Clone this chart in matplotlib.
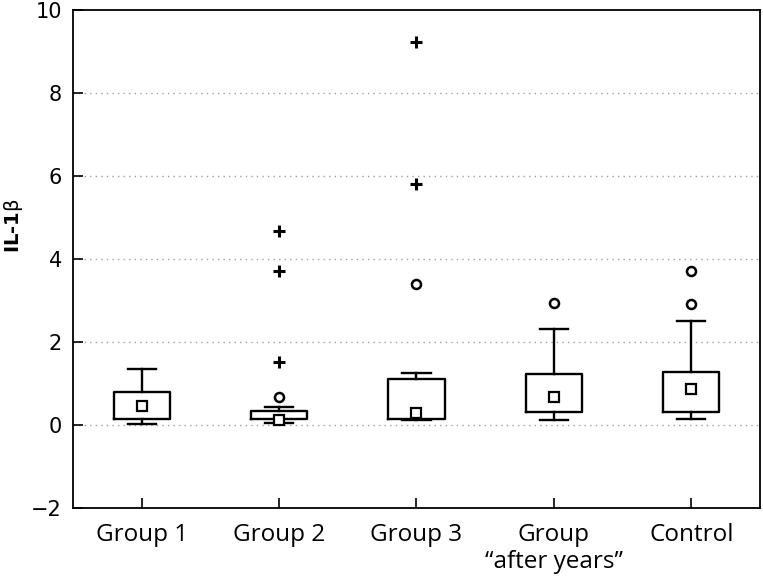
import matplotlib
matplotlib.use('Agg')
import matplotlib.pyplot as plt

categories = ['Group 1', 'Group 2', 'Group 3', 'Group\n\u201cafter years\u201d', 'Control']
whisker_low = [0.02, 0.04, 0.12, 0.13, 0.14]
q1 = [0.14, 0.14, 0.14, 0.31, 0.31]
q3 = [0.80, 0.34, 1.10, 1.22, 1.28]
whisker_high = [1.35, 0.43, 1.26, 2.31, 2.51]
means = [0.46, 0.12, 0.28, 0.68, 0.86]
outliers_circle = [[], [0.68], [3.40], [2.93], [2.91, 3.70]]
outliers_plus = [[], [1.52, 3.71, 4.67], [5.80, 9.22], [], []]
y_ticks = [-2, 0, 2, 4, 6, 8, 10]

fig = plt.figure(figsize=(7.63, 5.80), dpi=100)
ax = fig.add_axes([0.0957, 0.124, 0.9003, 0.8588])

stats = []
for i in range(len(categories)):
    stats.append(dict(whislo=whisker_low[i], q1=q1[i], med=means[i], q3=q3[i],
                      whishi=whisker_high[i], mean=means[i], fliers=[]))

positions = list(range(1, len(categories) + 1))
lw = 1.7
ax.bxp(stats, positions=positions, widths=0.41, showmeans=True, showfliers=False,
       boxprops=dict(color='black', linewidth=lw),
       whiskerprops=dict(color='black', linewidth=lw),
       capprops=dict(color='black', linewidth=lw),
       medianprops=dict(visible=False),
       meanprops=dict(marker='s', markerfacecolor='white', markeredgecolor='black',
                      markersize=6.5, markeredgewidth=1.6))

for i, p in enumerate(positions):
    if outliers_circle[i]:
        ax.plot([p] * len(outliers_circle[i]), outliers_circle[i], linestyle='none',
                marker='o', markerfacecolor='white', markeredgecolor='black',
                markersize=6.5, markeredgewidth=1.8, zorder=5)
    if outliers_plus[i]:
        ax.plot([p] * len(outliers_plus[i]), outliers_plus[i], linestyle='none',
                marker='+', color='black', markersize=8, markeredgewidth=2.2, zorder=5)

ax.set_xlim(0.5, 5.5)
ax.set_ylim(-2, 10)
ax.set_yticks(y_ticks)
ax.set_yticklabels(['\u22122' if v < 0 else str(v) for v in y_ticks], fontsize=15,
                   family='DejaVu Sans')
ax.set_xticks(positions)
ax.set_xticklabels(categories, fontsize=17.5, family='Open Sans', linespacing=1.15)
ax.tick_params(direction='in', length=7, width=1.2, pad=8)
ax.tick_params(axis='x', pad=11)
for s in ax.spines.values():
    s.set_linewidth(1.3)
for v in [0, 2, 4, 6, 8]:
    ax.axhline(v, color='#a0a0a0', linestyle=(0, (1, 3)), linewidth=1.0, zorder=0)
ax.set_ylabel('IL-1$\\mathrm{\\beta}$', fontsize=14, fontweight='bold', family='DejaVu Sans')
ax.yaxis.set_label_coords(-0.07, 0.566)

fig.savefig('out.png', dpi=100)
